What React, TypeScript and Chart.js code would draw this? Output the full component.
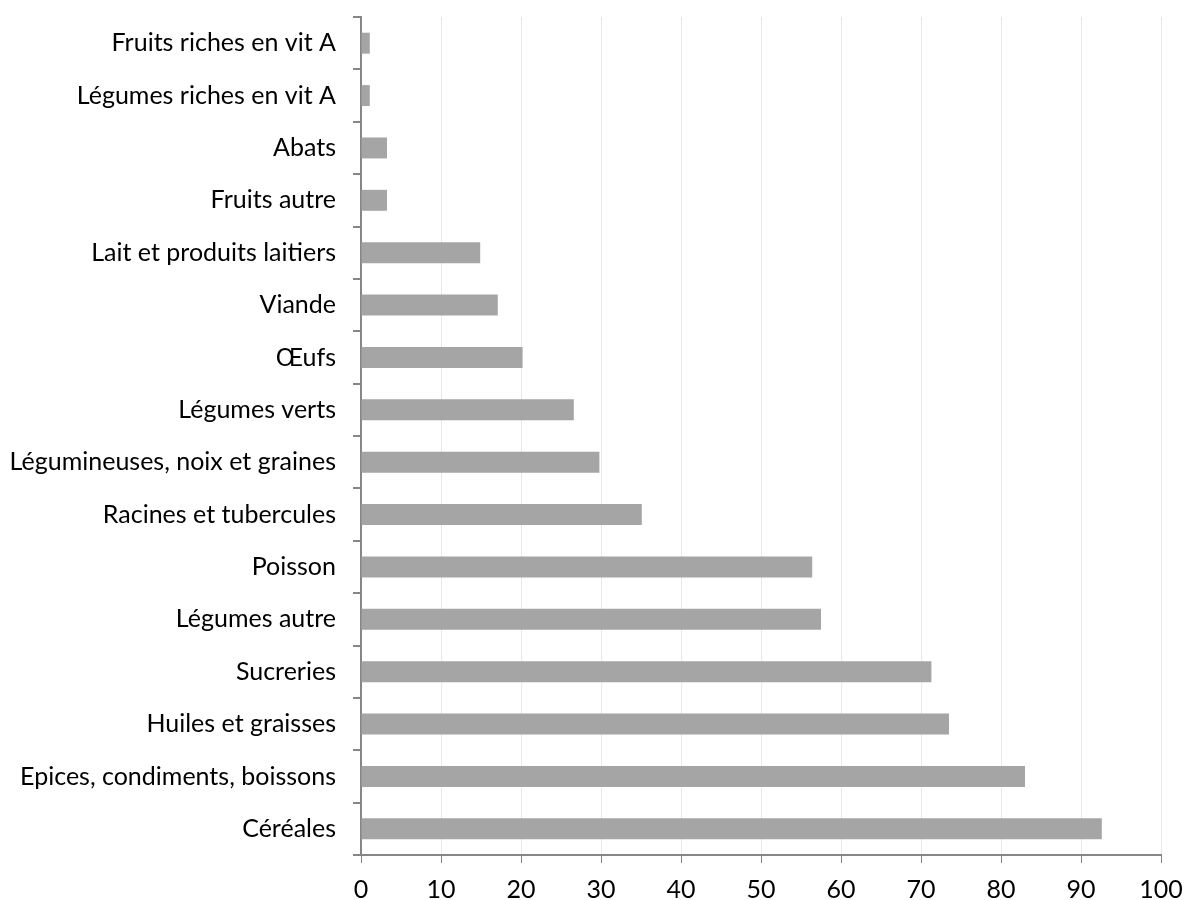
import React, { useEffect, useRef } from "react";
import { Chart, registerables } from "chart.js";

Chart.register(...registerables);

const categories: string[] = [
  "Fruits riches en vit A",
  "Légumes riches en vit A",
  "Abats",
  "Fruits autre",
  "Lait et produits laitiers",
  "Viande",
  "Œufs",
  "Légumes verts",
  "Légumineuses, noix et graines",
  "Racines et tubercules",
  "Poisson",
  "Légumes autre",
  "Sucreries",
  "Huiles et graisses",
  "Epices, condiments, boissons",
  "Céréales",
];

const values: number[] = [
  1.1, 1.1, 3.25, 3.25, 14.9, 17.1, 20.2, 26.6, 29.8, 35.1, 56.4, 57.5, 71.3, 73.5, 83.0, 92.6,
];

const xMin = 0;
const xMax = 100;
const xStep = 10;

const FONT = "Lato, 'Open Sans', sans-serif";

export default function App() {
  const ref = useRef<HTMLCanvasElement | null>(null);

  useEffect(() => {
    if (!ref.current) return;
    const chart = new Chart(ref.current, {
      type: "bar",
      data: {
        labels: categories,
        datasets: [
          {
            data: values,
            backgroundColor: "#a5a5a5",
            borderWidth: 0,
            barPercentage: 0.4,
            categoryPercentage: 1,
          },
        ],
      },
      options: {
        indexAxis: "y",
        animation: false,
        responsive: false,
        maintainAspectRatio: false,
        layout: { padding: { top: 17, right: 23, bottom: 0, left: 0 } },
        plugins: { legend: { display: false }, tooltip: { enabled: false } },
        scales: {
          x: {
            min: xMin,
            max: xMax,
            ticks: {
              stepSize: xStep,
              color: "#000",
              font: { family: FONT, size: 25 },
              padding: 12,
              maxRotation: 0,
            },
            grid: {
              color: "#e8e8e8",
              tickColor: "#868686",
              tickLength: 8,
              lineWidth: 1,
            },
            border: { color: "#868686", width: 2 },
            afterFit: (scale: any) => {
              scale.height = 45;
              scale.paddingLeft = 0;
              scale.paddingRight = 0;
            },
          },
          y: {
            ticks: {
              color: "#000",
              font: { family: FONT, size: 25 },
              padding: 17,
            },
            grid: {
              offset: true,
              drawOnChartArea: false,
              tickColor: "#868686",
              tickLength: 8,
              lineWidth: 2,
            },
            border: { color: "#868686", width: 2 },
            afterFit: (scale: any) => {
              scale.width = 361;
              scale.paddingTop = 0;
              scale.paddingBottom = 0;
            },
          },
        },
      },
    });
    return () => chart.destroy();
  }, []);

  return (
    <div style={{ position: "fixed", left: 0, top: 0, width: 1184, height: 900, background: "#fff" }}>
      <canvas ref={ref} width={1184} height={900} style={{ width: 1184, height: 900 }} />
    </div>
  );
}
